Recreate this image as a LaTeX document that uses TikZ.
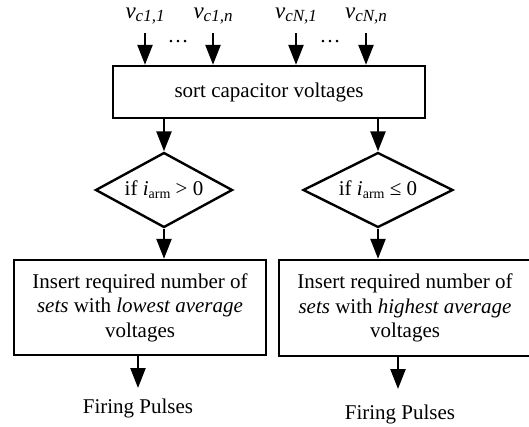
\documentclass[tikz,border=0pt]{standalone}
\usepackage{fontspec}
\setmainfont{Liberation Serif}
\usetikzlibrary{arrows.meta,shapes.geometric}
\begin{document}
\begin{tikzpicture}[x=1pt,y=-1pt,
  every node/.style={font=\fontsize{21}{24.5}\selectfont},
  flowbox/.style={draw,line width=2.4pt,inner sep=0,align=center},
  decision/.style={draw,shape=diamond,line width=2.4pt,inner sep=0,aspect=1.83},
  flowarrow/.style={line width=2.4pt,-{Triangle[width=15pt,length=20pt]}},
  lbl/.style={inner sep=0}]
\useasboundingbox (0,0) rectangle (529,426);
\clip (0,0) rectangle (529,426);
% inputs
\newcommand{\vlab}[1]{\textit{v}\raisebox{-3pt}{\fontsize{17}{17}\selectfont\textit{#1}}}
\node[lbl,font=\fontsize{23}{25}\selectfont] (v11) at (145,16) {\vlab{c1,1}};
\node[lbl,font=\fontsize{23}{25}\selectfont] (v1n) at (213,16) {\vlab{c1,n}};
\node[lbl,font=\fontsize{23}{25}\selectfont] (vN1) at (296,16) {\vlab{cN,1}};
\node[lbl,font=\fontsize{23}{25}\selectfont] (vNn) at (366,16) {\vlab{cN,n}};
\node[lbl] (d1) at (178,42) {\dots};
\node[lbl] (d2) at (330,42) {\dots};
\coordinate (s11) at (145,33);
\coordinate (s1n) at (213,33);
\coordinate (sN1) at (296,33);
\coordinate (sNn) at (366,33);
% sort box
\node[flowbox,minimum width=312pt,minimum height=52pt] (sort) at (269,92) {sort capacitor voltages};
\draw[flowarrow] (s11) -- (s11 |- sort.north);
\draw[flowarrow] (s1n) -- (s1n |- sort.north);
\draw[flowarrow] (sN1) -- (sN1 |- sort.north);
\draw[flowarrow] (sNn) -- (sNn |- sort.north);
% decisions
\node[decision,minimum width=137pt,minimum height=75pt] (dl) at (164,190) {if \textit{i}\raisebox{-3pt}{\fontsize{14}{14}\selectfont arm} > 0};
\node[decision,minimum width=150pt,minimum height=75pt] (dr) at (378,190) {if \textit{i}\raisebox{-3pt}{\fontsize{14}{14}\selectfont arm} ≤ 0};
\draw[flowarrow] (dl.north |- sort.south) -- (dl.north);
\draw[flowarrow] (dr.north |- sort.south) -- (dr.north);
% action boxes
\node[flowbox,minimum width=252pt,minimum height=95pt] (bl) at (140,307.5)
  {Insert required number of\\\textit{sets} with \textit{lowest average}\\voltages};
\node[flowbox,minimum width=252pt,minimum height=96pt] (br) at (405,308)
  {Insert required number of\\\textit{sets} with \textit{highest average}\\voltages};
\draw[flowarrow] (dl.south) -- (dl.south |- bl.north);
\draw[flowarrow] (dr.south) -- (dr.south |- br.north);
% outputs
\node[lbl] (fl) at (138,408) {Firing Pulses};
\node[lbl] (fr) at (400,414) {Firing Pulses};
\coordinate (flend) at (138,388);
\coordinate (frend) at (398,389);
\draw[flowarrow] (flend |- bl.south) -- (flend);
\draw[flowarrow] (frend |- br.south) -- (frend);
\end{tikzpicture}
\end{document}
